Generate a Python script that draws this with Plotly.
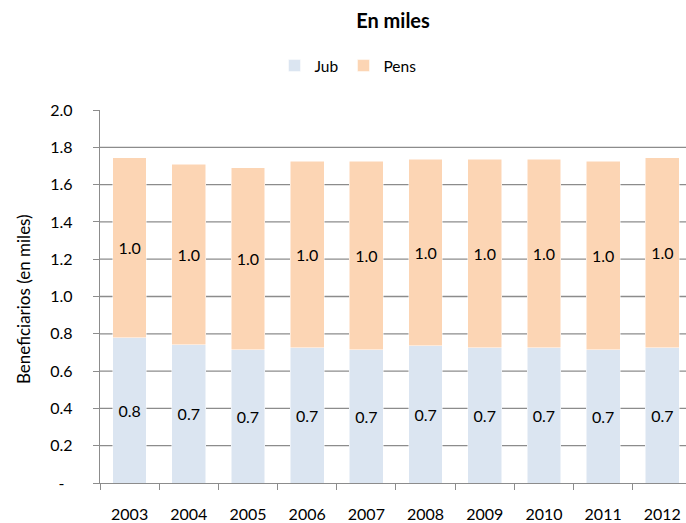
import plotly.graph_objects as go

# Beneficiarios por año (en miles)
years = ["2003", "2004", "2005", "2006", "2007", "2008", "2009", "2010", "2011", "2012"]
jub = [0.78, 0.74, 0.715, 0.725, 0.715, 0.735, 0.725, 0.725, 0.715, 0.725]
pens = [0.965, 0.97, 0.975, 1.0, 1.01, 1.0, 1.01, 1.01, 1.01, 1.02]

y_ticks = [0, 0.2, 0.4, 0.6, 0.8, 1.0, 1.2, 1.4, 1.6, 1.8, 2.0]
y_ticktext = ["-\u00a0\u00a0", "0.2", "0.4", "0.6", "0.8", "1.0", "1.2", "1.4", "1.6", "1.8", "2.0"]

FONT = "Lato, 'Open Sans', sans-serif"
GRID = "#8c8c8c"

fig = go.Figure()
fig.add_trace(go.Bar(
    name="Jub", x=years, y=jub,
    marker=dict(color="#DBE5F1", line=dict(color="white", width=0.5)),
    texttemplate="%{y:.1f}", textposition="inside", insidetextanchor="middle",
    textfont=dict(family=FONT, size=16, color="black"),
))
fig.add_trace(go.Bar(
    name="Pens", x=years, y=pens,
    marker=dict(color="#FCD5B4", line=dict(color="white", width=0.5)),
    texttemplate="%{y:.1f}", textposition="inside", insidetextanchor="middle",
    textfont=dict(family=FONT, size=16, color="black"),
))

# horizontal gridlines (none at the top of the range)
for v in y_ticks[1:-1]:
    fig.add_shape(type="line", xref="paper", yref="y", x0=0, x1=1, y0=v, y1=v,
                  line=dict(color=GRID, width=1.3), layer="below")

fig.update_layout(
    width=686, height=523,
    margin=dict(l=100, r=0, t=110, b=40),
    paper_bgcolor="white", plot_bgcolor="white",
    barmode="stack", bargap=0.43,
    uniformtext=dict(mode=False),
    font=dict(family=FONT, size=16, color="black"),
    title=dict(text="<b>En miles</b>", x=0.5, xref="paper", xanchor="center",
               y=1 - 21 / 523, yref="container", yanchor="middle",
               font=dict(family=FONT, size=20, color="black")),
    legend=dict(orientation="h", traceorder="normal",
                x=(348 - 100) / 586, xanchor="center",
                y=(483 - 66) / 373, yanchor="middle",
                font=dict(family=FONT, size=15.5, color="black"),
                itemwidth=30, bgcolor="rgba(0,0,0,0)"),
    showlegend=True,
    xaxis=dict(
        type="category", range=[-0.5, 9.4],
        showgrid=False, showline=True, linecolor=GRID, linewidth=1.3,
        ticks="outside", tickson="boundaries", ticklen=6, tickcolor=GRID, tickwidth=1.3,
        ticklabelstandoff=17, automargin=False,
        tickfont=dict(family=FONT, size=16, color="black"),
    ),
    yaxis=dict(
        range=[0, 2.0], tickvals=y_ticks, ticktext=y_ticktext,
        showgrid=False, zeroline=False, showline=True, linecolor=GRID, linewidth=1.3,
        ticks="outside", ticklen=6, tickcolor=GRID, tickwidth=1.3,
        ticklabelstandoff=17, automargin=False,
        tickfont=dict(family=FONT, size=16, color="black"),
    ),
    annotations=[dict(
        text="Beneficiarios (en miles)", textangle=-90,
        xref="paper", yref="paper", x=(23 - 100) / 586, y=(483 - 299) / 373,
        xanchor="center", yanchor="middle", showarrow=False,
        font=dict(family=FONT, size=17, color="black"),
    )],
)

fig.write_html("out.html")
